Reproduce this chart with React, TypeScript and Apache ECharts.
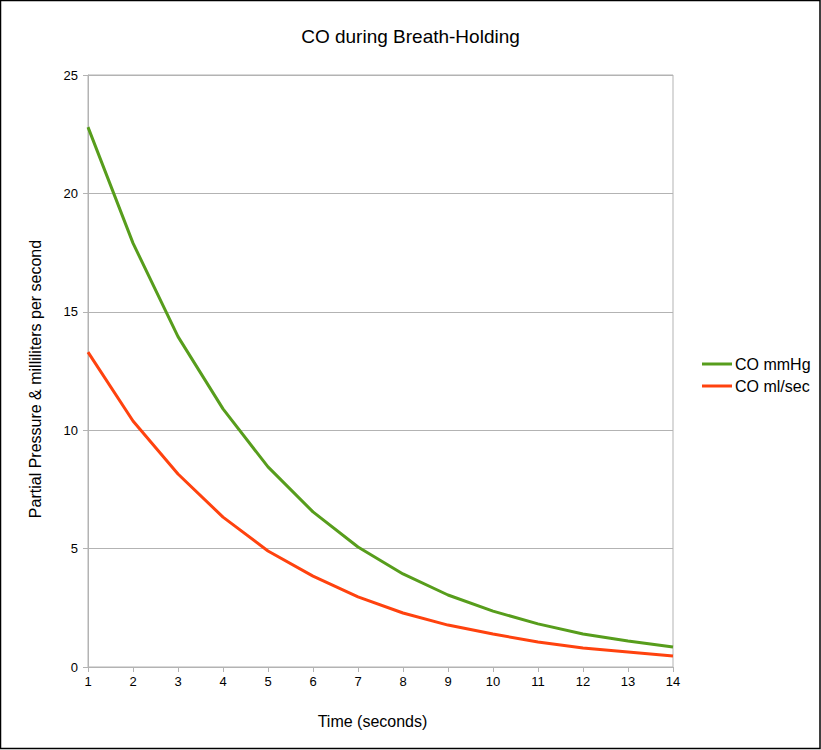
import React, { useEffect, useRef } from "react";
import * as echarts from "echarts";

const seconds = [1, 2, 3, 4, 5, 6, 7, 8, 9, 10, 11, 12, 13, 14];
const coMmHg = [22.8, 17.9, 13.95, 10.9, 8.45, 6.55, 5.07, 3.93, 3.04, 2.36, 1.82, 1.39, 1.1, 0.84];
const coMlSec = [13.3, 10.39, 8.15, 6.33, 4.9, 3.84, 2.96, 2.28, 1.77, 1.39, 1.06, 0.8, 0.63, 0.46];

export default function App() {
  const ref = useRef<HTMLDivElement>(null);
  useEffect(() => {
    document.body.style.margin = "0";
    const chart = echarts.init(ref.current!, null, { renderer: "svg" });
    const font = "Liberation Sans";
    chart.setOption({
      animation: false,
      backgroundColor: "#fff",
      textStyle: { fontFamily: font },
      title: {
        text: "CO during Breath-Holding",
        left: "center",
        top: 27,
        padding: [0, 0, 0, 6],
        textStyle: { fontFamily: font, fontSize: 19, fontWeight: "normal", color: "#000" },
      },
      graphic: [
        {
          type: "rect",
          shape: { x: 0.5, y: 0.5, width: 819.5, height: 748 },
          style: { fill: "none", stroke: "#000", lineWidth: 1.5 },
        },
        {
          type: "text",
          x: 35,
          y: 379,
          rotation: Math.PI / 2,
          style: {
            text: "Partial Pressure & milliliters per second",
            fontFamily: font,
            fontSize: 16,
            fill: "#000",
            align: "center",
            verticalAlign: "middle",
          },
        },
      ],
      legend: {
        left: 702,
        top: 356,
        padding: 0,
        orient: "vertical",
        itemWidth: 30,
        itemHeight: 3,
        itemGap: 6,
        icon: "rect",
        textStyle: { fontFamily: font, fontSize: 16, color: "#000", padding: [0, 0, 0, -2] },
        data: ["CO mmHg", "CO ml/sec"],
      },
      grid: {
        left: 88,
        right: 148,
        top: 75,
        bottom: 83,
        show: true,
        borderColor: "#b3b3b3",
        borderWidth: 1,
      },
      xAxis: {
        type: "value",
        min: 1,
        max: 14,
        interval: 1,
        name: "Time (seconds)",
        nameLocation: "middle",
        nameGap: 46,
        nameTextStyle: { fontFamily: font, fontSize: 16, color: "#000", padding: [0, 16, 0, 0] },
        axisLine: { lineStyle: { color: "#b3b3b3" } },
        axisTick: { show: true, length: 5, lineStyle: { color: "#b3b3b3" } },
        axisLabel: { fontFamily: font, fontSize: 13, color: "#000", margin: 8 },
        splitLine: { show: false },
      },
      yAxis: {
        type: "value",
        min: 0,
        max: 25,
        interval: 5,
        axisLine: { show: true, lineStyle: { color: "#b3b3b3" } },
        axisTick: { show: true, length: 5, lineStyle: { color: "#b3b3b3" } },
        axisLabel: { fontFamily: font, fontSize: 13, color: "#000", margin: 10 },
        splitLine: { show: true, lineStyle: { color: "#b3b3b3" } },
      },
      series: [
        {
          name: "CO mmHg",
          type: "line",
          data: seconds.map((s, i) => [s, coMmHg[i]]),
          showSymbol: false,
          symbol: "none",
          itemStyle: { color: "#579d1c" },
          lineStyle: { color: "#579d1c", width: 3 },
        },
        {
          name: "CO ml/sec",
          type: "line",
          data: seconds.map((s, i) => [s, coMlSec[i]]),
          showSymbol: false,
          symbol: "none",
          itemStyle: { color: "#ff420e" },
          lineStyle: { color: "#ff420e", width: 3 },
        },
      ],
    });
    return () => chart.dispose();
  }, []);
  return (
    <div
      ref={ref}
      style={{ position: "absolute", left: 0, top: 0, width: 821, height: 750 }}
    />
  );
}
